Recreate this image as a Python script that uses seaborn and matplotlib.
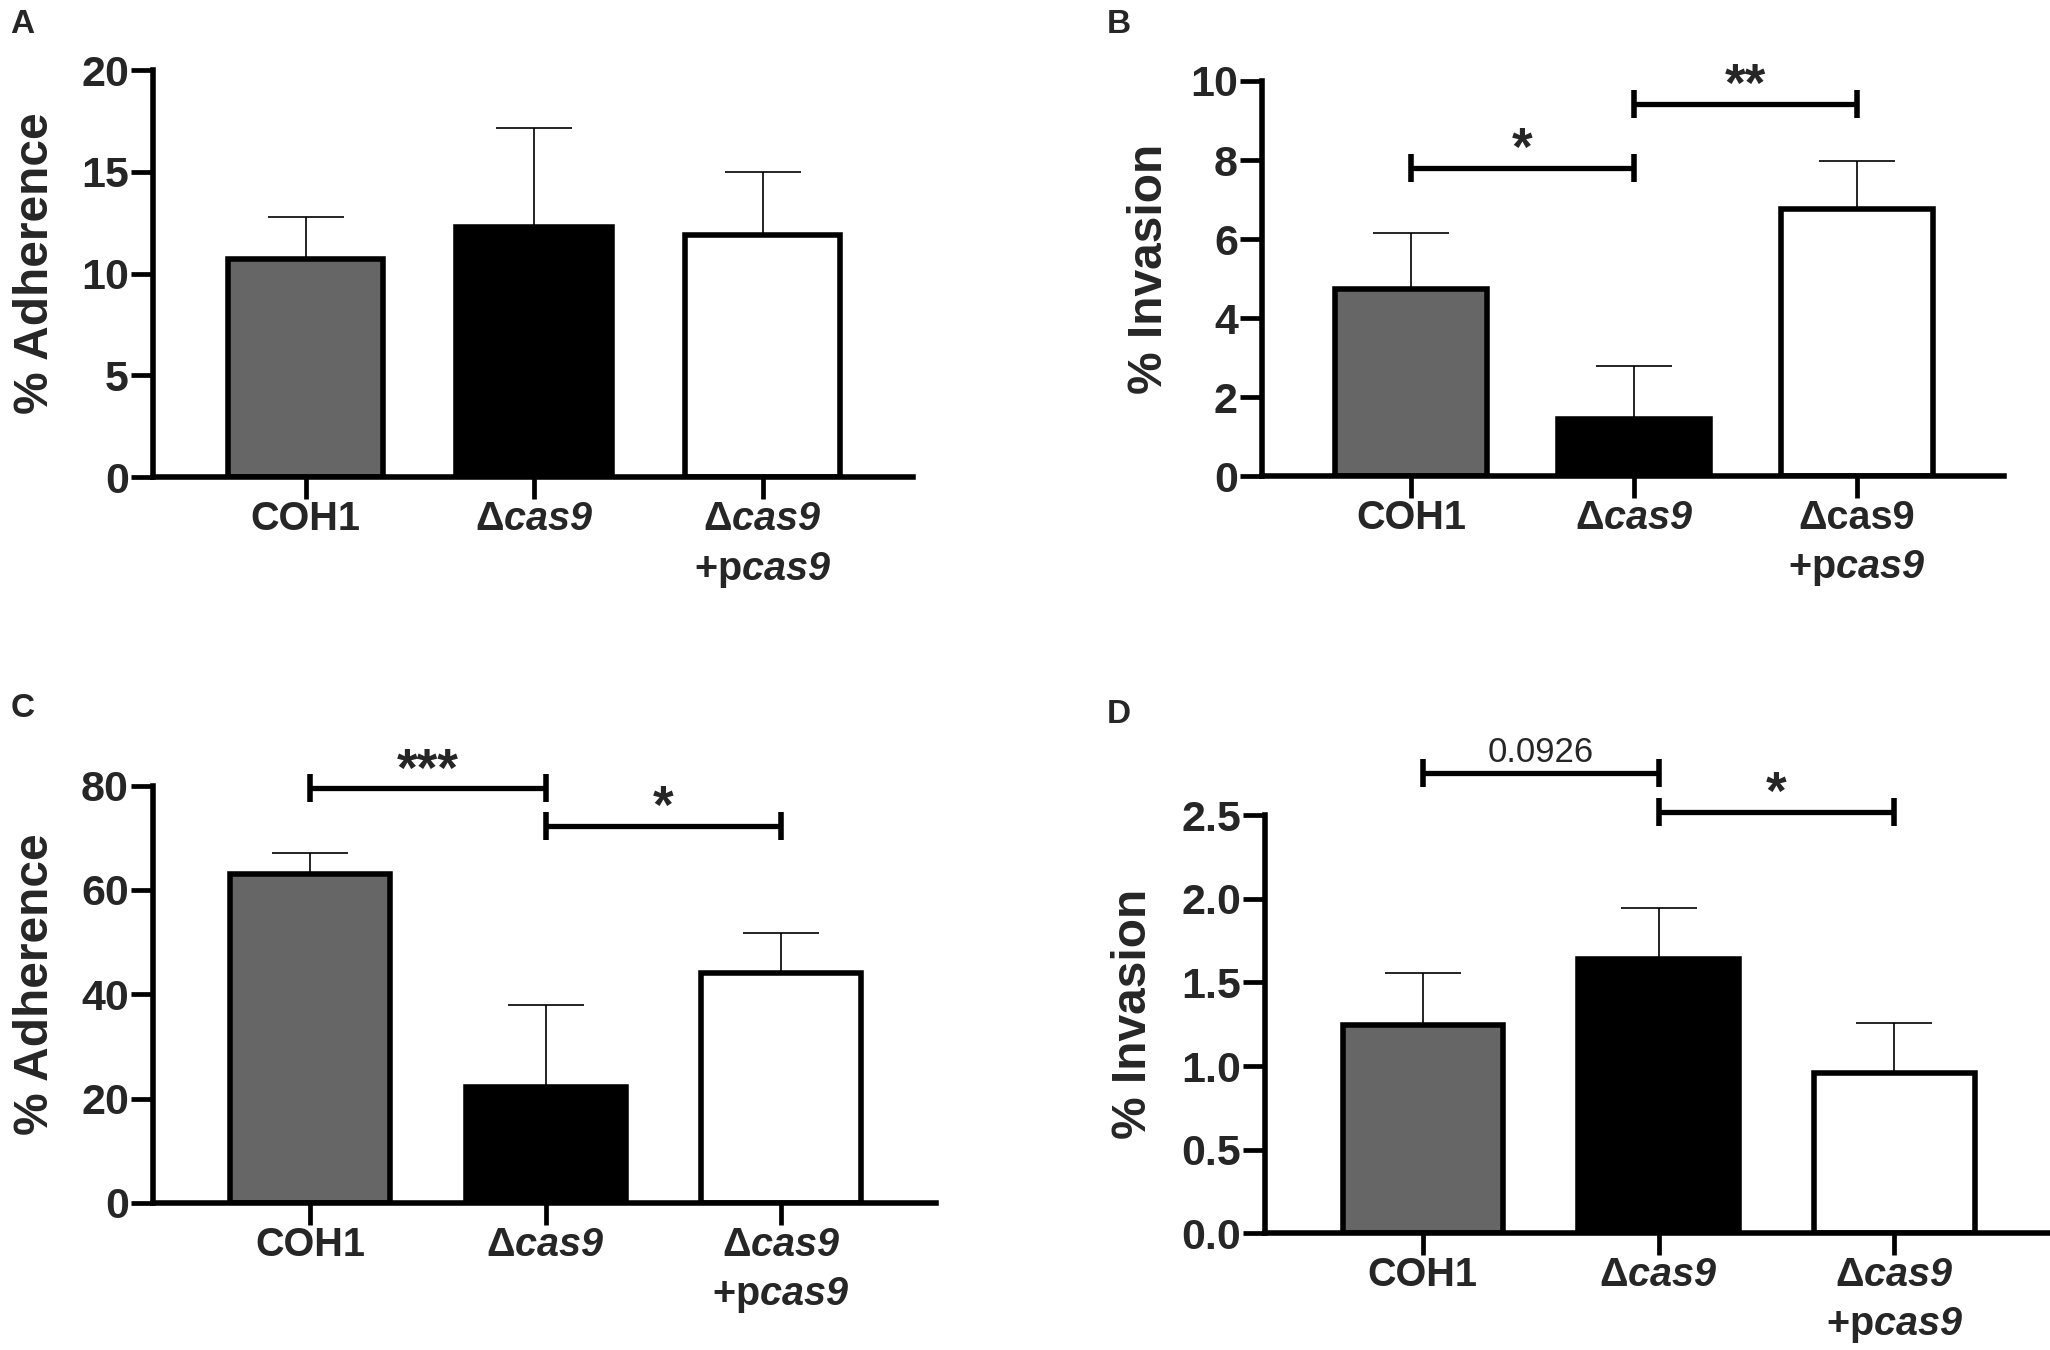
import matplotlib
matplotlib.use("Agg")
import matplotlib.pyplot as plt
import seaborn as sns

# group names and bar colours (same in every panel)
groups = ["COH1", "Δcas9", "Δcas9 +pcas9"]
bar_colors = ["#666666", "#000000", "#ffffff"]

# panel A: % adherence
adh_a = [10.7, 12.3, 11.9]
adh_a_sem = [2.1, 4.85, 3.1]

# panel B: % invasion
inv_b = [4.73, 1.45, 6.75]
inv_b_sem = [1.41, 1.34, 1.22]

# panel C: % adherence
adh_c = [63.0, 22.2, 44.1]
adh_c_sem = [4.0, 15.8, 7.6]

# panel D: % invasion
inv_d = [1.244, 1.64, 0.959]
inv_d_sem = [0.31, 0.303, 0.30]

# significance brackets: (from group, to group, height, label)
sig_b = [(0, 1, 7.80, "*"), (1, 2, 9.42, "**")]
sig_c = [(0, 1, 79.5, "***"), (1, 2, 72.3, "*")]
sig_d = [(0, 1, 2.751, "0.0926"), (1, 2, 2.52, "*")]

xlabels = ["COH1", "Δ$\\mathbfit{cas9}$", "Δ$\\mathbfit{cas9}$\n+p$\\mathbfit{cas9}$"]
xlabels_b = ["COH1", "Δ$\\mathbfit{cas9}$", "Δcas9\n+p$\\mathbfit{cas9}$"]

sns.set_style("ticks")
plt.rcParams["font.family"] = ["Liberation Sans", "DejaVu Sans"]
plt.rcParams["font.weight"] = "bold"
plt.rcParams["mathtext.fontset"] = "custom"
plt.rcParams["mathtext.bfit"] = "Liberation Sans:italic:bold"
plt.rcParams["mathtext.bf"] = "Liberation Sans:bold"
plt.rcParams["mathtext.rm"] = "Liberation Sans:bold"

W, H = 2050, 1350
fig = plt.figure(figsize=(W / 100, H / 100), dpi=100)

panels = [
    dict(rect=[0.0744, 0.6465, 0.3712, 0.3015], vals=adh_a, err=adh_a_sem,
         ylabel="% Adherence", ticks=[0, 5, 10, 15, 20], fmt="{:g}",
         sig=[], labels=xlabels, gap=105),
    dict(rect=[0.6154, 0.6474, 0.3622, 0.2926], vals=inv_b, err=inv_b_sem,
         ylabel="% Invasion", ticks=[0, 2, 4, 6, 8, 10], fmt="{:g}",
         sig=sig_b, labels=xlabels_b, gap=100),
    dict(rect=[0.0744, 0.109, 0.3824, 0.309], vals=adh_c, err=adh_c_sem,
         ylabel="% Adherence", ticks=[0, 20, 40, 60, 80], fmt="{:g}",
         sig=sig_c, labels=xlabels, gap=105),
    dict(rect=[0.617, 0.0866, 0.383, 0.3094], vals=inv_d, err=inv_d_sem,
         ylabel="% Invasion", ticks=[0, 0.5, 1.0, 1.5, 2.0, 2.5], fmt="{:.1f}",
         sig=sig_d, labels=xlabels, gap=119),
]

for p in panels:
    ax = fig.add_axes(p["rect"])
    sns.barplot(x=groups, y=p["vals"], hue=groups, palette=bar_colors,
                edgecolor="black", linewidth=4.0, width=0.68, errorbar=None,
                legend=False, ax=ax)
    lower = [0] * len(p["vals"])
    ax.errorbar(range(len(groups)), p["vals"], yerr=[lower, p["err"]], fmt="none",
                ecolor="black", elinewidth=1.2, capsize=27.5, capthick=1.2, zorder=0.5)

    ax.set_xlim(-0.67, 2.66)
    ax.set_ylim(0, p["ticks"][-1])
    ax.set_yticks(p["ticks"])
    ax.set_yticklabels([p["fmt"].format(t) for t in p["ticks"]])
    ax.set_xticks(range(len(groups)))
    ax.set_xticklabels(p["labels"], linespacing=1.38)
    ax.set_xlabel("")

    sns.despine(ax=ax)
    for side in ["left", "bottom"]:
        ax.spines[side].set_linewidth(4.0)
        ax.spines[side].set_color("black")
    ax.tick_params(axis="both", direction="out", length=15.5, width=3.4, color="black")
    ax.tick_params(axis="y", labelsize=31, pad=1.5)
    ax.tick_params(axis="x", labelsize=28.5, pad=1)

    ax.set_ylabel(p["ylabel"], fontsize=34.5, fontweight="bold", va="baseline")
    ax.yaxis.set_label_coords(-p["gap"] / (p["rect"][2] * W), 0.525)

    for x0, x1, y, lab in p["sig"]:
        ax.plot([x0, x1], [y, y], color="black", lw=3.8, marker="|", markersize=20,
                markeredgewidth=4, solid_capstyle="butt", clip_on=False)
        if lab.startswith("*"):
            ax.annotate(lab, xy=((x0 + x1) / 2, y), xytext=(0, 2), textcoords="offset points",
                        ha="center", va="baseline", fontsize=38, fontweight="bold",
                        annotation_clip=False)
        else:
            ax.annotate(lab, xy=((x0 + x1) / 2, y), xytext=(0, 8), textcoords="offset points",
                        ha="center", va="baseline", fontsize=25, fontweight="normal",
                        annotation_clip=False)

for letter, x, y in [("A", 0.005, 0.993), ("B", 0.540, 0.993),
                     ("C", 0.005, 0.4867), ("D", 0.540, 0.482)]:
    fig.text(x, y, letter, fontsize=24, fontweight="bold", ha="left", va="top")

fig.savefig("out.png", dpi=100)
